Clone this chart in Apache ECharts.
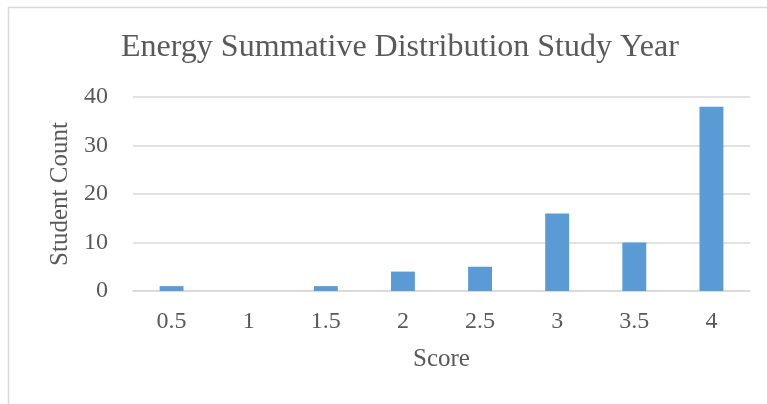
<!DOCTYPE html>
<html>
<head>
<meta charset="utf-8">
<script src="https://cdn.jsdelivr.net/npm/echarts@6/dist/echarts.min.js"></script>
<style>
html,body{margin:0;padding:0;background:#fff;}
#c{width:767px;height:404px;}
</style>
</head>
<body>
<div id="c"></div>
<script>
const categories = ['0.5', '1', '1.5', '2', '2.5', '3', '3.5', '4'];
const counts = [1, 0, 1, 4, 5, 16, 10, 38];
const yTicks = [0, 10, 20, 30, 40];

const font = '"Liberation Serif", "Times New Roman", serif';
const chart = echarts.init(document.getElementById('c'));
chart.setOption({
  animation: false,
  graphic: [{
    type: 'rect',
    shape: {x: 8.5, y: 7.5, width: 900, height: 500},
    style: {fill: 'none', stroke: '#d9d9d9', lineWidth: 1.5},
    silent: true
  }],
  title: {
    text: 'Energy Summative Distribution Study Year',
    left: 116,
    top: 27,
    textStyle: {fontFamily: font, fontSize: 32, fontWeight: 'normal', color: '#595959'}
  },
  grid: {left: 133, right: 17, top: 97, bottom: 113, containLabel: false},
  xAxis: {
    type: 'category',
    data: categories,
    name: 'Score',
    nameLocation: 'middle',
    nameGap: 56,
    nameTextStyle: {fontFamily: font, fontSize: 25, color: '#595959'},
    axisLine: {lineStyle: {color: '#d9d9d9', width: 1.5}},
    axisTick: {show: false},
    axisLabel: {fontFamily: font, fontSize: 24, color: '#595959', margin: 19}
  },
  yAxis: {
    type: 'value',
    min: yTicks[0],
    max: yTicks[yTicks.length - 1],
    interval: 10,
    name: 'Student Count',
    nameLocation: 'middle',
    nameGap: 59,
    nameRotate: 90,
    nameTextStyle: {fontFamily: font, fontSize: 25, color: '#595959'},
    axisLine: {show: false},
    axisTick: {show: false},
    axisLabel: {fontFamily: font, fontSize: 24, color: '#595959', margin: 25},
    splitLine: {lineStyle: {color: '#d9d9d9', width: 1.5}}
  },
  series: [{
    type: 'bar',
    data: counts,
    barWidth: '31%',
    itemStyle: {color: '#5b9bd5'}
  }]
});
</script>
</body>
</html>
